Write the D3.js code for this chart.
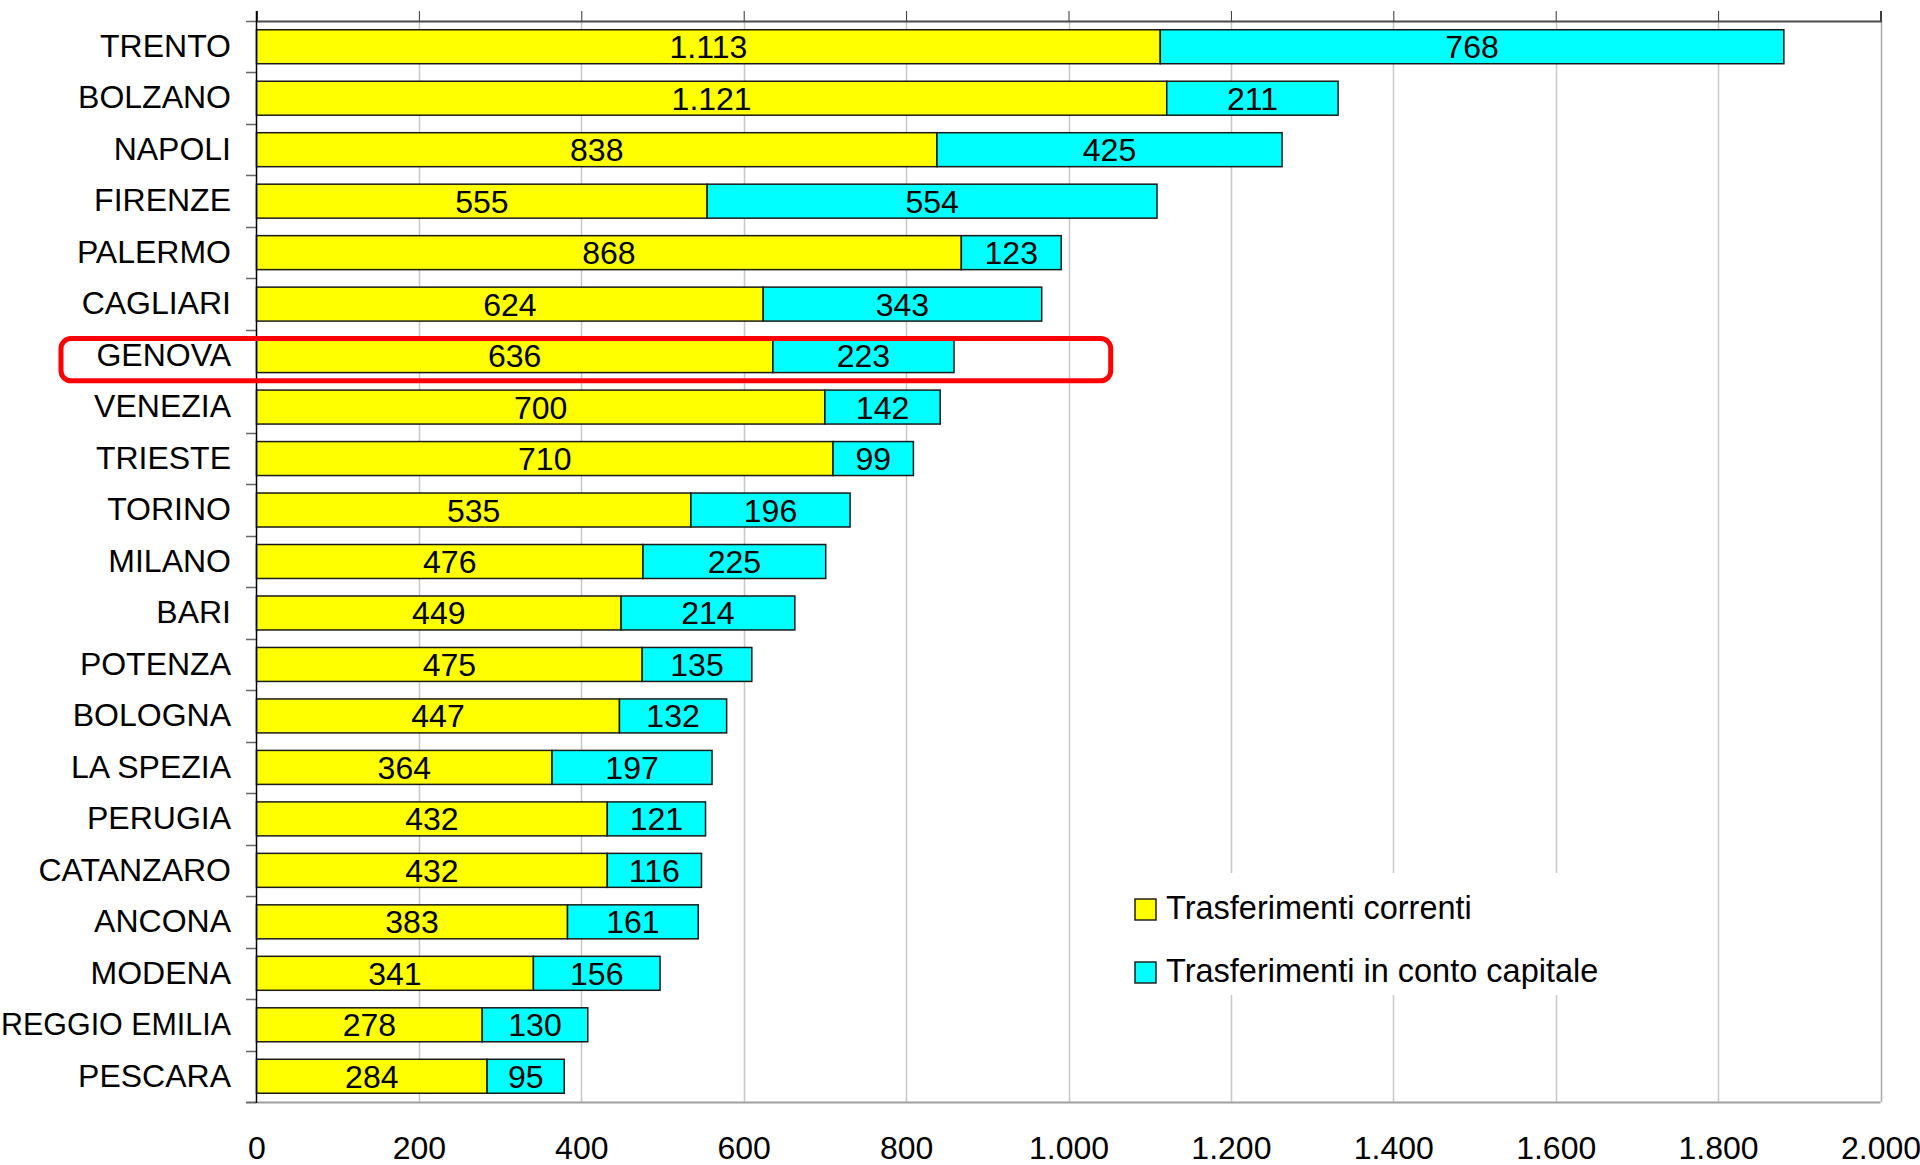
<!DOCTYPE html>
<meta charset="utf-8">
<script src="https://d3js.org/d3.v7.min.js"></script>
<style>
  body { margin: 0; background: #fff; }
  text { font-family: "Liberation Sans", Arial, sans-serif; fill: #000; }
</style>
<div id="chart"></div>
<script>
  // data
  var cities = ["TRENTO","BOLZANO","NAPOLI","FIRENZE","PALERMO","CAGLIARI","GENOVA","VENEZIA",
    "TRIESTE","TORINO","MILANO","BARI","POTENZA","BOLOGNA","LA SPEZIA","PERUGIA","CATANZARO",
    "ANCONA","MODENA","REGGIO EMILIA","PESCARA"];
  var correnti = [1113,1121,838,555,868,624,636,700,710,535,476,449,475,447,364,432,432,383,341,278,284];
  var capitale = [768,211,425,554,123,343,223,142,99,196,225,214,135,132,197,121,116,161,156,130,95];
  var seriesNames = ["Trasferimenti correnti","Trasferimenti in conto capitale"];
  var seriesColors = ["#ffff00","#00ffff"];
  var xTicks = [0,200,400,600,800,1000,1200,1400,1600,1800,2000];
  var highlightCity = "GENOVA", highlightTo = 1052;

  var margin = {top: 21, right: 40, bottom: 63, left: 256},
      width = 1920 - margin.left - margin.right,
      height = 1165 - margin.top - margin.bottom;

  var svg = d3.select("#chart")
    .append("svg")
      .attr("width", 1920)
      .attr("height", 1165);
  var g = svg.append("g")
      .attr("transform", "translate(" + margin.left + "," + margin.top + ")");

  var it = d3.formatLocale({decimal: ",", thousands: ".", grouping: [3], currency: ["", "€"]});
  var fmt = it.format(",d");

  var x = d3.scaleLinear().domain([0, 2000]).range([0.5, width + 0.5]);
  var y = d3.scaleBand().domain(cities).range([0, height]).paddingInner(0.34).paddingOuter(0.17);

  // grid
  g.append("g").selectAll("line")
    .data(xTicks.filter(function(d){ return d > 0; }))
    .enter().append("line")
      .attr("x1", function(d){ return Math.round(x(d)) + 0.5; })
      .attr("x2", function(d){ return Math.round(x(d)) + 0.5; })
      .attr("y1", 0).attr("y2", height)
      .attr("stroke", function(d){ return d == 2000 ? "#a8a8a8" : "#c8c8c8"; })
      .attr("stroke-width", 1.5);

  // top line with ticks pointing up
  var topAxis = g.append("g")
    .call(d3.axisTop(x).tickValues(xTicks).tickSize(10).tickSizeOuter(10).tickFormat(""));
  topAxis.select(".domain").attr("stroke", "#4a4a4a").attr("stroke-width", 2);
  topAxis.selectAll(".tick line").attr("stroke", "#333");

  // bottom axis labels
  var bottomAxis = g.append("g")
    .attr("transform", "translate(0," + height + ")")
    .call(d3.axisBottom(x).tickValues(xTicks).tickSize(0).tickPadding(34).tickFormat(fmt));
  bottomAxis.select(".domain").remove();
  bottomAxis.selectAll("text").style("font-size", "32px").attr("fill", "#000");
  g.append("line")
    .attr("x1", -10).attr("x2", width + 0.5)
    .attr("y1", height + 0.5).attr("y2", height + 0.5)
    .attr("stroke", "#a0a0a0").attr("stroke-width", 2);

  // bars
  var stackData = cities.map(function(c, i){ return {city: c, a: correnti[i], b: capitale[i]}; });
  var rows = g.append("g").selectAll("g")
    .data(stackData).enter().append("g");
  [["a", 0], ["b", 1]].forEach(function(s){
    rows.append("rect")
      .attr("x", function(d){ return s[1] == 0 ? x(0) : x(d.a); })
      .attr("y", function(d){ return y(d.city); })
      .attr("width", function(d){ return s[1] == 0 ? x(d.a) - x(0) : x(d.a + d.b) - x(d.a); })
      .attr("height", y.bandwidth())
      .attr("fill", seriesColors[s[1]])
      .attr("stroke", "#1a1a1a")
      .attr("stroke-width", 1.5);
    rows.append("text")
      .attr("x", function(d){ return s[1] == 0 ? (x(0) + x(d.a)) / 2 : (x(d.a) + x(d.a + d.b)) / 2; })
      .attr("y", function(d){ return y(d.city) + y.bandwidth() / 2; })
      .attr("dy", "0.36em")
      .attr("text-anchor", "middle")
      .style("font-size", "32px")
      .text(function(d){ return fmt(d[s[0]]); });
  });

  // left axis
  var leftAxis = g.append("g")
    .call(d3.axisLeft(y).tickSize(0).tickPadding(25));
  leftAxis.select(".domain").remove();
  leftAxis.selectAll("text").style("font-size", "32px").attr("fill", "#000")
    .each(function(){
      // squeeze long names so they stay inside the left edge
      if (this.getComputedTextLength() > margin.left - 26) {
        d3.select(this).attr("textLength", margin.left - 26).attr("lengthAdjust", "spacingAndGlyphs");
      }
    });
  g.append("g").selectAll("line")
    .data(d3.range(cities.length + 1))
    .enter().append("line")
      .attr("x1", -10).attr("x2", 0)
      .attr("y1", function(i){ return Math.round(i * y.step()) + 0.5; })
      .attr("y2", function(i){ return Math.round(i * y.step()) + 0.5; })
      .attr("stroke", "#666").attr("stroke-width", 1.5);
  g.append("line")
    .attr("x1", 0.5).attr("x2", 0.5)
    .attr("y1", -10).attr("y2", height + 1)
    .attr("stroke", "#000").attr("stroke-width", 1.5);

  // legend
  var legend = svg.append("g").attr("transform", "translate(1125,873)");
  legend.append("rect").attr("width", 478).attr("height", 122).attr("fill", "#fff");
  seriesNames.forEach(function(n, i){
    legend.append("rect")
      .attr("x", 10).attr("y", 26 + i * 63)
      .attr("width", 21).attr("height", 21)
      .attr("fill", seriesColors[i])
      .attr("stroke", "#222").attr("stroke-width", 1.5);
    legend.append("text")
      .attr("x", 41).attr("y", 46 + i * 63)
      .style("font-size", "32.5px")
      .text(n);
  });

  // highlight box
  g.append("rect")
    .attr("x", 61 - margin.left)
    .attr("y", y(highlightCity))
    .attr("width", x(highlightTo) - (61 - margin.left))
    .attr("height", y.step() * 0.82)
    .attr("rx", 10)
    .attr("fill", "none")
    .attr("stroke", "#ff0000")
    .attr("stroke-width", 5);
</script>
